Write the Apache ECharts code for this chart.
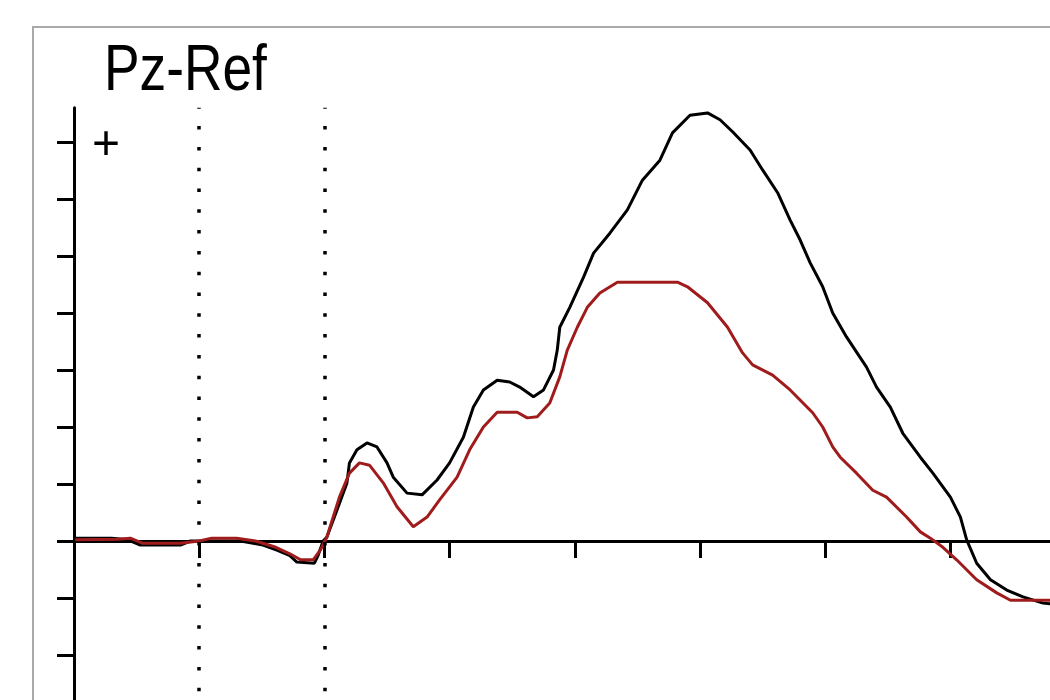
<!DOCTYPE html>
<html>
<head>
<meta charset="utf-8">
<script src="https://cdn.jsdelivr.net/npm/echarts@6/dist/echarts.min.js"></script>
<style>
  html, body { margin: 0; padding: 0; background: #fff; }
  #chart { width: 1050px; height: 700px; }
</style>
</head>
<body>
<div id="chart"></div>
<script>
// 通道名和时间轴 (ms)
const channelName = 'Pz-Ref';
const polarityMark = '+';
const yTickValues = [-3, -2, -1, 0, 1, 2, 3, 4, 5, 6, 7];
const eventTimes = [-100, 0];

// 黑色波形 [时间, 幅值]
const blackWave = [
  [-199, 0.05], [-170, 0.05], [-157, 0.02], [-147, -0.07], [-115, -0.07],
  [-107, 0], [-87, 0.0], [-67, 0.0], [-49, -0.07], [-38, -0.16],
  [-28, -0.25], [-22, -0.37], [-8, -0.39], [-5, -0.25], [-1, 0],
  [2, 0.07], [10, 0.54], [18, 1.02], [20, 1.37], [26, 1.6], [34, 1.72],
  [42, 1.65], [50, 1.37], [55, 1.12], [66, 0.84], [78, 0.81], [90, 1.07],
  [100, 1.37], [111, 1.82], [119, 2.35], [127, 2.65], [138, 2.82],
  [148, 2.79], [156, 2.7], [167, 2.53], [175, 2.65], [183, 3.0],
  [186, 3.35], [188, 3.75], [196, 4.1], [207, 4.63], [215, 5.05],
  [228, 5.4], [242, 5.81], [254, 6.33], [268, 6.68], [278, 7.16],
  [292, 7.47], [306, 7.51], [316, 7.39], [326, 7.18], [340, 6.86],
  [350, 6.51], [362, 6.11], [372, 5.63], [380, 5.28], [388, 4.88],
  [398, 4.46], [406, 4.0], [417, 3.58], [433, 3.05], [441, 2.7],
  [452, 2.35], [462, 1.89], [476, 1.47], [486, 1.19], [500, 0.77],
  [508, 0.42], [513, 0.02], [521, -0.39], [532, -0.68], [545, -0.86],
  [558, -0.98], [574, -1.09], [590, -1.12]
];

// 红色波形 [时间, 幅值]
const redWave = [
  [-199, 0.02], [-165, 0.03], [-155, 0.05], [-145, -0.04], [-115, -0.04],
  [-100, 0], [-90, 0.05], [-70, 0.05], [-55, 0], [-40, -0.1],
  [-28, -0.22], [-19, -0.33], [-9, -0.33], [-3, -0.15], [2, 0.07],
  [12, 0.77], [20, 1.19], [28, 1.37], [36, 1.33], [47, 1.02], [58, 0.6],
  [71, 0.25], [82, 0.42], [92, 0.72], [106, 1.12], [116, 1.6], [127, 2.0],
  [138, 2.26], [154, 2.26], [162, 2.16], [170, 2.18], [180, 2.42],
  [188, 2.88], [194, 3.35], [202, 3.75], [210, 4.1], [220, 4.35],
  [234, 4.54], [282, 4.54], [290, 4.46], [306, 4.18], [322, 3.75],
  [334, 3.3], [342, 3.09], [358, 2.91], [372, 2.65], [390, 2.25],
  [398, 2.0], [406, 1.65], [412, 1.47], [425, 1.19], [438, 0.89],
  [449, 0.77], [465, 0.42], [476, 0.16], [484, 0.05], [494, -0.11],
  [505, -0.33], [521, -0.68], [537, -0.91], [548, -1.04], [590, -1.04]
];

const chart = echarts.init(document.getElementById('chart'));

chart.setOption({
  animation: false,
  backgroundColor: '#ffffff',
  grid: {
    left: 74,
    right: -25.6,
    top: 107.8,
    bottom: -12,
    outerBoundsMode: 'none',
    containLabel: false
  },
  xAxis: {
    type: 'value',
    min: -200,
    max: 600,
    interval: 100,
    axisLine: { show: true, onZero: true, lineStyle: { color: '#000', width: 3 } },
    axisTick: { show: true, length: 17, lineStyle: { color: '#000', width: 3 } },
    axisLabel: { show: false },
    splitLine: { show: false }
  },
  yAxis: {
    type: 'value',
    min: -3,
    max: 7.6,
    axisLine: { show: true, onZero: false, lineStyle: { color: '#000', width: 3 } },
    axisTick: {
      show: true,
      length: 17,
      customValues: yTickValues,
      lineStyle: { color: '#000', width: 3 }
    },
    axisLabel: { show: false },
    splitLine: { show: false }
  },
  graphic: [
    {
      type: 'rect',
      shape: { x: 33, y: 27, width: 1100, height: 800 },
      style: { fill: 'none', stroke: '#a9a9a9', lineWidth: 2 },
      silent: true
    },
    {
      type: 'text',
      x: 104,
      y: 40,
      scaleX: 0.82,
      style: {
        text: channelName,
        font: '65px "Liberation Sans", sans-serif',
        fill: '#000'
      }
    },
    {
      type: 'text',
      x: 106,
      y: 146,
      style: {
        text: polarityMark,
        font: '48px "Liberation Sans", sans-serif',
        fill: '#000',
        align: 'center',
        verticalAlign: 'middle'
      }
    }
  ],
  series: [
    {
      name: 'black',
      type: 'line',
      data: blackWave,
      symbol: 'none',
      lineStyle: { color: '#000000', width: 3 },
      markLine: {
        silent: true,
        symbol: ['none', 'none'],
        label: { show: false },
        lineStyle: { color: '#000', width: 3.5, type: [3.5, 17.3] },
        data: eventTimes.map(t => ({ xAxis: t }))
      }
    },
    {
      name: 'red',
      type: 'line',
      data: redWave,
      symbol: 'none',
      lineStyle: { color: '#a01c1c', width: 3 }
    }
  ]
});
</script>
</body>
</html>
